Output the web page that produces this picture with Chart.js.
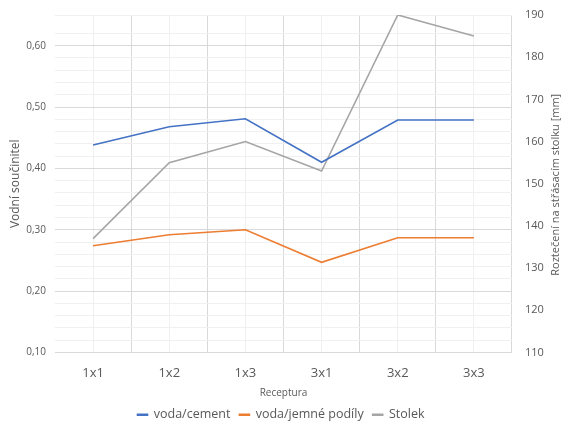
<!DOCTYPE html>
<html><head><meta charset="utf-8">
<script src="https://cdn.jsdelivr.net/npm/chart.js@4"></script>
<style>html,body{margin:0;padding:0;background:#fff}</style>
</head><body>
<canvas id="c" width="562" height="426"></canvas>
<script>
const categories = ['1x1','1x2','1x3','3x1','3x2','3x3'];
const vodaCement = [0.438, 0.468, 0.481, 0.410, 0.479, 0.479];
const vodaJemne = [0.274, 0.292, 0.300, 0.247, 0.287, 0.287];
const stolek = [137, 155, 160, 153, 190, 185];
const seriesNames = ['voda/cement', 'voda/jemné podíly', 'Stolek'];
const leftTitle = 'Vodní součinitel';
const rightTitle = 'Roztečení na střásacím stolku [mm]';
const xTitle = 'Receptura';

const FONT = '"Open Sans", sans-serif';
const TXT = '#595959';

const rightTitlePlugin = {
  id: 'rightTitle',
  afterDraw(chart) {
    const {ctx, chartArea} = chart;
    ctx.save();
    ctx.translate(556, (chartArea.top + chartArea.bottom) / 2 + 1);
    ctx.rotate(-Math.PI / 2);
    ctx.font = '11px ' + FONT;
    ctx.fillStyle = TXT;
    ctx.textAlign = 'center';
    ctx.textBaseline = 'middle';
    ctx.fillText(rightTitle, 0, 0);
    ctx.restore();
  }
};

new Chart(document.getElementById('c'), {
  type: 'line',
  data: {
    labels: categories,
    datasets: [
      {label: seriesNames[0], data: vodaCement, borderColor: '#4472C4', backgroundColor: '#4472C4', borderWidth: 1.6, pointRadius: 0, yAxisID: 'y', tension: 0},
      {label: seriesNames[1], data: vodaJemne, borderColor: '#ED7D31', backgroundColor: '#ED7D31', borderWidth: 1.6, pointRadius: 0, yAxisID: 'y', tension: 0},
      {label: seriesNames[2], data: stolek, borderColor: '#A5A5A5', backgroundColor: '#A5A5A5', borderWidth: 1.6, pointRadius: 0, yAxisID: 'y2', tension: 0}
    ]
  },
  options: {
    responsive: false,
    animation: false,
    layout: {padding: {top: 15, left: 0, right: 0, bottom: -5}},
    plugins: {
      legend: {
        position: 'bottom',
        labels: {font: {family: FONT, size: 12.5}, color: TXT, boxWidth: 10, boxHeight: 1, padding: 9}
      },
      tooltip: {enabled: false}
    },
    scales: {
      x: {
        offset: true,
        grid: {
          offset: true, drawTicks: false,
          color: (c) => c.index === 0 ? 'rgba(0,0,0,0)' : '#d9d9d9'
        },
        border: {display: false},
        ticks: {font: {family: FONT, size: 13}, color: TXT, padding: 13},
        title: {display: true, text: xTitle, font: {family: FONT, size: 10}, color: TXT, padding: {top: 2, bottom: 0}},
        afterFit: (s) => { s.height = 47; s.paddingLeft = 0; s.paddingRight = 0; }
      },
      x2: {
        type: 'category',
        position: 'bottom',
        offset: true,
        grid: {offset: false, drawTicks: false, color: '#f0f0f0'},
        border: {display: false},
        ticks: {display: false},
        afterFit: (s) => { s.height = 0; s.paddingLeft = 0; s.paddingRight = 0; }
      },
      y: {
        position: 'left',
        min: 0.10, max: 0.65,
        ticks: {
          stepSize: 0.02, autoSkip: false, padding: 9,
          font: {family: FONT, size: 10}, color: TXT,
          callback: (v) => {
            const r = Math.round(v * 100);
            return (r % 10 === 0) ? (r / 100).toFixed(2).replace('.', ',') : '';
          }
        },
        grid: {
          drawTicks: false,
          color: (c) => {
            const r = Math.round(c.tick.value * 100);
            return (r % 10 === 0 && r <= 60) ? '#d9d9d9' : '#f0f0f0';
          }
        },
        border: {display: false},
        title: {display: true, text: leftTitle, font: {family: FONT, size: 12}, color: TXT, padding: {top: 8, bottom: 4}},
        afterFit: (s) => { s.width = 55; s.paddingTop = 0; s.paddingBottom = 0; }
      },
      y2: {
        position: 'right',
        min: 110, max: 190,
        ticks: {stepSize: 10, padding: 13, font: {family: FONT, size: 11}, color: TXT},
        grid: {display: false, drawTicks: false},
        border: {display: false},
        afterFit: (s) => { s.width = 50; s.paddingTop = 0; s.paddingBottom = 0; }
      }
    }
  },
  plugins: [rightTitlePlugin]
});
</script>
</body></html>
